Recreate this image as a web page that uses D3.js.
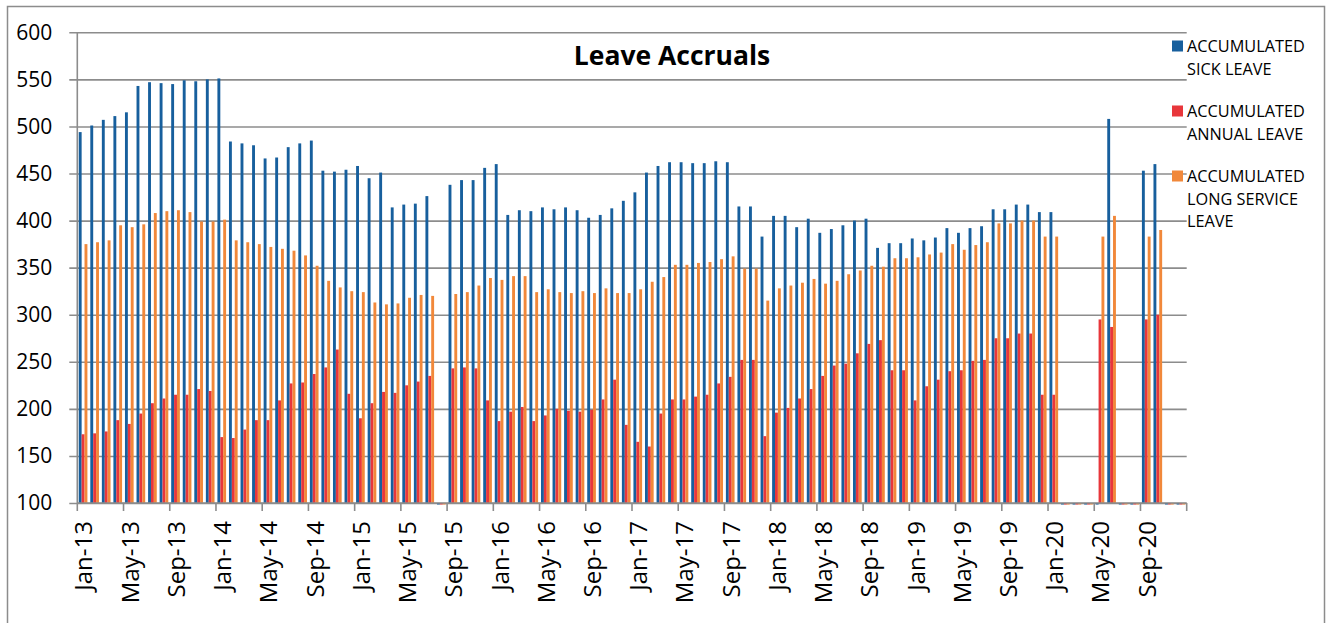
<!DOCTYPE html>
<html>
<head>
<meta charset="utf-8">
<script src="https://cdn.jsdelivr.net/npm/d3@7"></script>
<style>
  body { margin: 0; background: #fff; }
  svg { display: block; }
</style>
</head>
<body>
<svg width="1331" height="623"></svg>
<script>
// months Jan-13 .. Dec-20
var firstMonth = new Date(2013, 0, 1),
    lastMonth = new Date(2020, 11, 1)

var seriesNames = ['ACCUMULATED SICK LEAVE', 'ACCUMULATED ANNUAL LEAVE', 'ACCUMULATED LONG SERVICE LEAVE']
var legendLines = [['ACCUMULATED', 'SICK LEAVE'], ['ACCUMULATED', 'ANNUAL LEAVE'], ['ACCUMULATED', 'LONG SERVICE', 'LEAVE']]

var sickLeave = [494, 501, 507, 511, 515, 543, 547, 546, 545, 549, 548, 550,
  551, 484, 482, 480, 466, 467, 478, 482, 485, 453, 452, 454,
  458, 445, 451, 414, 417, 418, 426, 0, 438, 443, 443, 456,
  460, 406, 411, 410, 414, 412, 414, 411, 403, 406, 413, 421,
  430, 451, 458, 462, 462, 461, 461, 463, 462, 415, 415, 383,
  405, 405, 393, 402, 387, 391, 395, 400, 402, 371, 376, 376,
  381, 379, 382, 392, 387, 392, 394, 412, 412, 417, 417, 409,
  409, 0, 0, 0, 0, 508, 0, 0, 453, 460, 0, 0]

var annualLeave = [173, 174, 176, 188, 184, 195, 206, 211, 215, 215, 221, 219,
  170, 169, 178, 188, 188, 209, 227, 228, 237, 244, 263, 216,
  190, 206, 218, 217, 225, 229, 235, 0, 243, 244, 243, 209,
  187, 197, 202, 187, 193, 200, 198, 197, 199, 210, 231, 183,
  165, 160, 195, 210, 210, 213, 215, 227, 234, 252, 252, 171,
  196, 201, 211, 221, 235, 246, 248, 259, 269, 273, 241, 241,
  209, 224, 231, 240, 241, 251, 252, 275, 275, 280, 280, 215,
  215, 0, 0, 0, 295, 287, 0, 0, 295, 300, 0, 0]

var longServiceLeave = [375, 377, 379, 395, 393, 396, 408, 410, 411, 409, 399, 399,
  401, 379, 377, 375, 372, 370, 368, 363, 352, 336, 329, 325,
  324, 313, 311, 312, 318, 321, 320, 0, 322, 324, 331, 339,
  337, 341, 341, 324, 327, 324, 323, 325, 323, 328, 323, 323,
  327, 335, 340, 353, 353, 355, 356, 359, 362, 349, 349, 315,
  328, 331, 334, 338, 333, 336, 343, 347, 352, 351, 360, 360,
  361, 364, 366, 375, 369, 374, 377, 397, 397, 400, 400, 383,
  383, 0, 0, 0, 383, 405, 0, 0, 383, 390, 0, 0]

var yTicks = [100, 150, 200, 250, 300, 350, 400, 450, 500, 550, 600]
var colors = ['#175f9d', '#e8363b', '#f1883a']

var months = d3.timeMonth.range(firstMonth, d3.timeMonth.offset(lastMonth, 1))
var fmt = d3.timeFormat('%b-%y')
var rows = months.map(function(m, i) {
  return { month: m, values: [sickLeave[i], annualLeave[i], longServiceLeave[i]] }
})

var svg = d3.select('svg'),
    plotLeft = 77.3, plotRight = 1186.7, plotTop = 32.3, plotBottom = 503

var FONT = 'Open Sans, sans-serif'
var gridColor = '#8c8c8c'

// outer frame
svg.append('rect')
  .attr('x', 7.5).attr('y', 6.5)
  .attr('width', 1317).attr('height', 700)
  .style('fill', 'none')
  .style('stroke', gridColor)
  .style('stroke-width', 1.5)

var xScale = d3.scaleBand().domain(d3.range(months.length)).range([plotLeft, plotRight])
var subScale = d3.scaleBand().domain(d3.range(3)).range([0, xScale.bandwidth()]).paddingOuter(0.5)
var yScale = d3.scaleLinear().domain([100, 600]).range([plotBottom, plotTop])

// gridlines + y labels
var yAxis = svg.append('g')
  .attr('transform', 'translate(' + plotLeft + ',0)')
  .call(d3.axisLeft(yScale).tickValues(yTicks).tickSize(-(plotRight - plotLeft)).tickSizeOuter(0).tickPadding(25))
yAxis.select('.domain').remove()
yAxis.selectAll('.tick line')
  .attr('x1', -8)
  .style('stroke', gridColor)
  .style('stroke-width', 1.6)
yAxis.selectAll('.tick text')
  .style('font-family', FONT)
  .style('font-size', '21px')
  .style('fill', '#000')

// bars
svg.append('clipPath').attr('id', 'plotclip')
  .append('rect')
  .attr('x', plotLeft).attr('y', plotTop)
  .attr('width', plotRight - plotLeft).attr('height', plotBottom - plotTop + 1.5)

var groups = svg.append('g')
  .attr('clip-path', 'url(#plotclip)')
  .selectAll('g')
  .data(rows)
  .enter()
  .append('g')
  .attr('transform', function(d, i) { return 'translate(' + xScale(i) + ',0)' })

groups.selectAll('rect')
  .data(function(d) { return d.values })
  .enter()
  .append('rect')
  .attr('x', function(v, j) { return subScale(j) })
  .attr('width', subScale.bandwidth())
  .attr('y', function(v) { return Math.min(yScale(v), yScale(100)) })
  .attr('height', function(v) { return Math.abs(yScale(100) - yScale(v)) })
  .style('fill', function(v, j) { return colors[j] })

// y axis line
svg.append('line')
  .attr('x1', plotLeft).attr('x2', plotLeft)
  .attr('y1', plotTop).attr('y2', plotBottom)
  .style('stroke', gridColor)
  .style('stroke-width', 1.6)

// x axis
var xAxis = svg.append('g')
  .attr('transform', 'translate(0,' + plotBottom + ')')
xAxis.append('line')
  .attr('x1', plotLeft).attr('x2', plotRight)
  .style('stroke', gridColor)
  .style('stroke-width', 1.6)
xAxis.selectAll('.xtick')
  .data(d3.range(0, months.length + 1, 4))
  .enter()
  .append('line')
  .attr('x1', function(i) { return plotLeft + xScale.step() * i })
  .attr('x2', function(i) { return plotLeft + xScale.step() * i })
  .attr('y1', 0).attr('y2', 8)
  .style('stroke', gridColor)
  .style('stroke-width', 1.6)
xAxis.selectAll('.xlabel')
  .data(d3.range(0, months.length, 4))
  .enter()
  .append('text')
  .attr('transform', function(i) {
    return 'translate(' + (xScale(i) + xScale.bandwidth() / 2 + 1) + ',18)rotate(-90)'
  })
  .attr('text-anchor', 'end')
  .attr('dy', '0.35em')
  .style('font-family', FONT)
  .style('font-size', '24px')
  .text(function(i) { return fmt(months[i]) })

// title
svg.append('text')
  .attr('x', 672)
  .attr('y', 65)
  .attr('text-anchor', 'middle')
  .style('font-family', FONT)
  .style('font-size', '26.5px')
  .style('font-weight', 'bold')
  .text('Leave Accruals')

// legend
var legendTops = [40.5, 105.5, 170.5]
var legend = svg.append('g')
legendLines.forEach(function(lines, k) {
  legend.append('rect')
    .attr('x', 1172).attr('y', legendTops[k])
    .attr('width', 11).attr('height', 11)
    .style('fill', colors[k])
  legend.append('text')
    .attr('x', 1187)
    .attr('y', legendTops[k] + 5.5)
    .style('font-family', FONT)
    .style('font-size', '16.3px')
    .selectAll('tspan')
    .data(lines)
    .enter()
    .append('tspan')
    .attr('x', 1187)
    .attr('dy', function(t, n) { return n == 0 ? '0.36em' : '22.7px' })
    .text(function(t) { return t })
})
</script>
</body>
</html>
